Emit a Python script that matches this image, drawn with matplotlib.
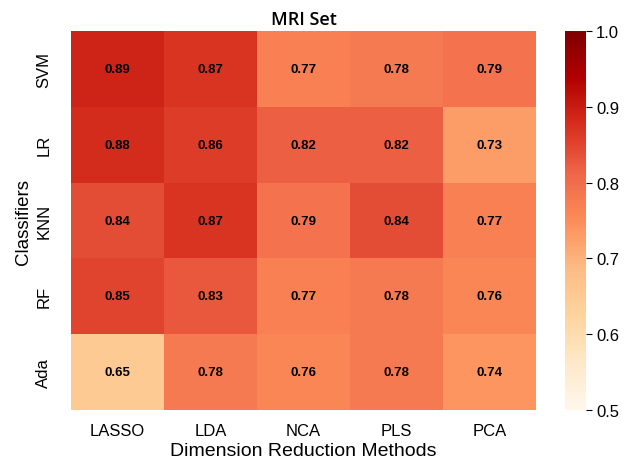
import numpy as np
import matplotlib.pyplot as plt
import seaborn as sns

classifiers = ['SVM', 'LR', 'KNN', 'RF', 'Ada']
methods = ['LASSO', 'LDA', 'NCA', 'PLS', 'PCA']
scores = np.array([
    [0.89, 0.87, 0.77, 0.78, 0.79],
    [0.88, 0.86, 0.82, 0.82, 0.73],
    [0.84, 0.87, 0.79, 0.84, 0.77],
    [0.85, 0.83, 0.77, 0.78, 0.76],
    [0.65, 0.78, 0.76, 0.78, 0.74],
])

plt.rcParams['font.family'] = ['Liberation Sans', 'DejaVu Sans']

fig = plt.figure(figsize=(6.27, 4.60), dpi=100)
ax = fig.add_axes([0.113, 0.1065, 0.742, 0.8235])
cax = fig.add_axes([0.901, 0.1065, 0.033, 0.8235])

sns.heatmap(scores, ax=ax, cbar_ax=cax, cmap='OrRd', vmin=0.5, vmax=1.0,
            annot=True, fmt='.2f',
            annot_kws={'color': 'black', 'fontweight': 'bold', 'fontsize': 9.5},
            xticklabels=methods, yticklabels=classifiers)

ax.set_title('MRI Set', fontsize=13, pad=5, family='Open Sans', fontweight='semibold')
ax.set_xlabel('Dimension Reduction Methods', fontsize=14, labelpad=3)
ax.set_ylabel('Classifiers', fontsize=13.5, labelpad=3)
ax.tick_params(axis='x', length=0, labelsize=12, pad=9)
ax.tick_params(axis='y', length=0, labelsize=12, pad=14)
plt.setp(ax.get_yticklabels(), rotation=90, va='center')

cax.tick_params(labelsize=12, length=4)
cax.set_yticks([0.5, 0.6, 0.7, 0.8, 0.9, 1.0])
for sp in cax.spines.values():
    sp.set_visible(False)

fig.savefig('out.png', dpi=100)
